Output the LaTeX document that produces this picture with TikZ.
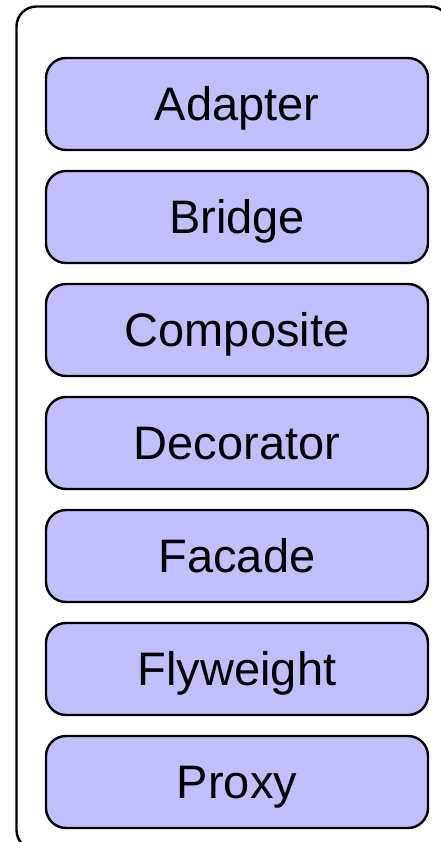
\documentclass[tikz,border=0pt]{standalone}
\usepackage{fontspec}
\setmainfont{Liberation Sans}
\usetikzlibrary{positioning}

\definecolor{patternblue}{RGB}{192,192,255}

\begin{document}
\begin{tikzpicture}[x=1pt,y=1pt,node distance=21pt,
    frame/.style={draw,line width=2.4pt,rounded corners=20pt,outer sep=0pt,
      minimum width=433.5pt,minimum height=843.5pt},
    pattern/.style={draw,fill=patternblue,line width=2.4pt,rounded corners=20pt,
      outer sep=0pt,minimum width=382pt,minimum height=92pt,
      text height=33.6pt,text depth=0pt,
      font=\fontsize{47}{47}\selectfont}]

  \clip (0,0) rectangle (441,842);

  \node[frame] (structural) at (233.25,413.75) {};

  \node[pattern] (adapter) at (237,738) {Adapter};
  \node[pattern] (bridge) [below=of adapter] {Bridge};
  \node[pattern] (composite) [below=of bridge] {Composite};
  \node[pattern] (decorator) [below=of composite] {Decorator};
  \node[pattern] (facade) [below=of decorator] {Facade};
  \node[pattern] (flyweight) [below=of facade] {Flyweight};
  \node[pattern] (proxy) [below=of flyweight] {Proxy};

\end{tikzpicture}
\end{document}
